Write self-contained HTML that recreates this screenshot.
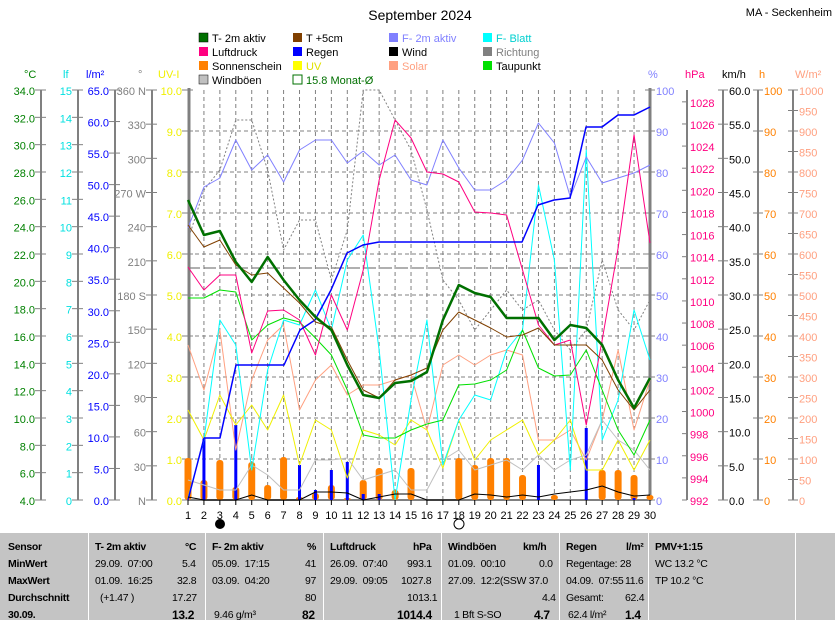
<!DOCTYPE html>
<html><head><meta charset="utf-8"><style>
body{margin:0;background:#fff;width:835px;height:620px;overflow:hidden;font-family:"Liberation Sans",sans-serif}
svg text{font-family:"Liberation Sans",sans-serif;font-size:11px}
.tb{position:absolute;left:0;top:533px;width:835px;height:87px;background:#c4c4c4;font-size:10.5px;letter-spacing:-0.3px}
.tb div{position:absolute;white-space:nowrap}
.b{font-weight:bold}
</style></head><body>
<svg width="835" height="533" style="position:absolute;left:0;top:0">
<text x="420" y="20" text-anchor="middle" style="font-size:14px">September 2024</text>
<text x="832" y="16" text-anchor="end">MA - Seckenheim</text>
<g>
<rect x="199" y="33" width="9" height="9" fill="#007000" stroke="#000" stroke-width="0.5"/><text x="212" y="42">T- 2m aktiv</text>
<rect x="199" y="47" width="9" height="9" fill="#ff0080"/><text x="212" y="56">Luftdruck</text>
<rect x="199" y="61" width="9" height="9" fill="#ff8000"/><text x="212" y="70">Sonnenschein</text>
<rect x="199" y="75" width="9" height="9" fill="#c0c0c0" stroke="#000" stroke-width="0.5"/><text x="212" y="84">Windböen</text>
<rect x="293" y="33" width="9" height="9" fill="#804000"/><text x="306" y="42">T +5cm</text>
<rect x="293" y="47" width="9" height="9" fill="#0000ff"/><text x="306" y="56">Regen</text>
<rect x="293" y="61" width="9" height="9" fill="#ffff00"/><text x="306" y="70" fill="#e0e000">UV</text>
<rect x="293" y="75" width="9" height="9" fill="#fff" stroke="#007000"/><text x="306" y="84" fill="#007000">15.8 Monat-Ø</text>
<rect x="389" y="33" width="9" height="9" fill="#8080ff"/><text x="402" y="42" fill="#8080ff">F- 2m aktiv</text>
<rect x="389" y="47" width="9" height="9" fill="#000"/><text x="402" y="56">Wind</text>
<rect x="389" y="61" width="9" height="9" fill="#ffa080"/><text x="402" y="70" fill="#ffa080">Solar</text>
<rect x="483" y="33" width="9" height="9" fill="#00ffff"/><text x="496" y="42" fill="#00d0d0">F- Blatt</text>
<rect x="483" y="47" width="9" height="9" fill="#808080"/><text x="496" y="56" fill="#808080">Richtung</text>
<rect x="483" y="61" width="9" height="9" fill="#00e000"/><text x="496" y="70">Taupunkt</text>
</g>
<text x="24" y="78" fill="#008000">°C</text><text x="63" y="78" fill="#00e0e0">lf</text><text x="86" y="78" fill="#0000ff">l/m²</text><text x="138" y="78" fill="#808080">°</text><text x="158" y="78" fill="#f0f000">UV-I</text>
<text x="648" y="78" fill="#8080ff">%</text><text x="685" y="78" fill="#ff0080">hPa</text><text x="722" y="78">km/h</text><text x="759" y="78" fill="#ff8000">h</text><text x="795" y="78" fill="#ffa080">W/m²</text>
<g stroke="#808080" stroke-width="2"><line x1="41" y1="90" x2="41" y2="500"/><line x1="78" y1="90" x2="78" y2="500"/><line x1="115" y1="90" x2="115" y2="500"/><line x1="152" y1="90" x2="152" y2="500"/><line x1="687" y1="90" x2="687" y2="500"/><line x1="723" y1="90" x2="723" y2="500"/><line x1="758" y1="90" x2="758" y2="500"/><line x1="793" y1="90" x2="793" y2="500"/></g>
<g id="ticks" stroke="#808080" stroke-width="1"></g>
<g id="labels"></g>
<g id="grid" stroke="#808080" stroke-dasharray="4,3" stroke-width="1"></g>
<line x1="188" y1="268" x2="650" y2="268" stroke="#606060" stroke-dasharray="12,4"/>
<g stroke="#808080" stroke-width="3" fill="none"><line x1="189" y1="88" x2="189" y2="501"/><line x1="650" y1="88" x2="650" y2="501"/></g>
<line x1="188" y1="500" x2="650" y2="500" stroke="#808080" stroke-width="2"/>
<g id="bars"></g>
<g fill="none" stroke-linejoin="round">
<polyline id="richt" stroke="#808080" stroke-dasharray="2,2"/>
<polyline id="solar" stroke="#ffa080"/>
<polyline id="uv" stroke="#f0f000"/>
<polyline id="gust" stroke="#c0c0c0"/>
<polyline id="blatt" stroke="#00ffff"/>
<polyline id="taup" stroke="#00e000"/>
<polyline id="fr" stroke="#8080ff"/>
<polyline id="druck" stroke="#ff0080"/>
<polyline id="regen" stroke="#0000ff" stroke-width="1.5"/>
<polyline id="wind" stroke="#000"/>
<polyline id="t5" stroke="#804000"/>
<polyline id="t2" stroke="#007000" stroke-width="2.5"/>
</g>
<g id="days"></g>
<circle cx="220" cy="524" r="5" fill="#000"/>
<circle cx="459" cy="524" r="5" fill="none" stroke="#000"/>
</svg>
<div class="tb">
<div style="left:88px;top:0;width:1px;height:87px;background:#fff"></div>
<div style="left:205px;top:0;width:1px;height:87px;background:#fff"></div>
<div style="left:323px;top:0;width:1px;height:87px;background:#fff"></div>
<div style="left:441px;top:0;width:1px;height:87px;background:#fff"></div>
<div style="left:559px;top:0;width:1px;height:87px;background:#fff"></div>
<div style="left:648px;top:0;width:1px;height:87px;background:#fff"></div>
<div style="left:795px;top:0;width:1px;height:87px;background:#fff"></div>
<div class="b" style="left:8px;top:8px">Sensor</div><div class="b" style="left:8px;top:25px">MinWert</div><div class="b" style="left:8px;top:42px">MaxWert</div><div class="b" style="left:8px;top:59px">Durchschnitt</div><div class="b" style="left:8px;top:76px">30.09.</div>
<div class="b" style="left:95px;top:8px">T- 2m aktiv</div><div class="b" style="left:185px;top:8px">°C</div>
<div style="left:95px;top:25px">29.09.&nbsp; 07:00</div><div style="left:182px;top:25px">5.4</div>
<div style="left:95px;top:42px">01.09.&nbsp; 16:25</div><div style="left:177px;top:42px">32.8</div>
<div style="left:100px;top:59px">(+1.47 )</div><div style="left:172px;top:59px">17.27</div>
<div class="b" style="left:172px;top:75px;font-size:12px">13.2</div>
<div class="b" style="left:212px;top:8px">F- 2m aktiv</div><div class="b" style="left:307px;top:8px">%</div>
<div style="left:212px;top:25px">05.09.&nbsp; 17:15</div><div style="left:305px;top:25px">41</div>
<div style="left:212px;top:42px">03.09.&nbsp; 04:20</div><div style="left:305px;top:42px">97</div>
<div style="left:305px;top:59px">80</div>
<div style="left:214px;top:76px">9.46 g/m³</div><div class="b" style="left:302px;top:75px;font-size:12px">82</div>
<div class="b" style="left:330px;top:8px">Luftdruck</div><div class="b" style="left:413px;top:8px">hPa</div>
<div style="left:330px;top:25px">26.09.&nbsp; 07:40</div><div style="left:407px;top:25px">993.1</div>
<div style="left:330px;top:42px">29.09.&nbsp; 09:05</div><div style="left:401px;top:42px">1027.8</div>
<div style="left:407px;top:59px">1013.1</div>
<div class="b" style="left:397px;top:75px;font-size:12px">1014.4</div>
<div class="b" style="left:448px;top:8px">Windböen</div><div class="b" style="left:523px;top:8px">km/h</div>
<div style="left:448px;top:25px">01.09.&nbsp; 00:10</div><div style="left:539px;top:25px">0.0</div>
<div style="left:448px;top:42px">27.09.&nbsp; 12:2(SSW 37.0</div>
<div style="left:542px;top:59px">4.4</div>
<div style="left:454px;top:76px">1 Bft S-SO</div><div class="b" style="left:534px;top:75px;font-size:12px">4.7</div>
<div class="b" style="left:566px;top:8px">Regen</div><div class="b" style="left:626px;top:8px">l/m²</div>
<div style="left:566px;top:25px">Regentage: 28</div>
<div style="left:566px;top:42px">04.09.&nbsp; 07:55</div><div style="left:625px;top:42px">11.6</div>
<div style="left:566px;top:59px">Gesamt:</div><div style="left:625px;top:59px">62.4</div>
<div style="left:568px;top:76px">62.4 l/m²</div><div class="b" style="left:625px;top:75px;font-size:12px">1.4</div>
<div class="b" style="left:655px;top:8px">PMV+1:15</div>
<div style="left:655px;top:25px">WC 13.2 °C</div>
<div style="left:655px;top:42px">TP 10.2 °C</div>
</div>
<script>
const NS="http://www.w3.org/2000/svg";
function el(p,t,a,txt){const e=document.createElementNS(NS,t);for(const k in a)e.setAttribute(k,a[k]);if(txt!==undefined)e.textContent=txt;document.getElementById(p).appendChild(e);return e;}
function axis(x,side,labs,col,top,bot){const n=labs.length-1;labs.forEach((l,i)=>{const y=top+(bot-top)*i/n;
 if(side<0){el("ticks","line",{x1:x-6,y1:y,x2:x+5,y2:y});el("labels","text",{x:x-6,y:y+5,"text-anchor":"end",fill:col},l);}
 else{el("ticks","line",{x1:x-5,y1:y,x2:x+5,y2:y});el("labels","text",{x:x+6,y:y+5,fill:col},l);}});}
let a=[];for(let v=34;v>=4;v-=2)a.push(v.toFixed(1));axis(41,-1,a,"#008000",90,500);
a=[];for(let v=15;v>=0;v--)a.push(v);axis(78,-1,a,"#00e0e0",90,500);
a=[];for(let v=65;v>=0;v-=5)a.push(v.toFixed(1));axis(115,-1,a,"#0000ff",90,500);
axis(152,-1,["360 N","330","300","270 W","240","210","180 S","150","120","90","60","30","N"],"#808080",90,500);
a=[];for(let v=10;v>=0;v--)a.push(v.toFixed(1));axis(188,-1,a,"#f0f000",90,500);
a=[];for(let v=100;v>=0;v-=10)a.push(v);axis(650,1,a,"#8080ff",90,500);
a=[];for(let v=60;v>=0;v-=5)a.push(v.toFixed(1));axis(723,1,a,"#000",90,500);
a=[];for(let v=100;v>=0;v-=10)a.push(v);axis(758,1,a,"#ff8000",90,500);
a=[];for(let v=1000;v>=0;v-=50)a.push(v);axis(793,1,a,"#ffa080",90,500);
for(let v=1028;v>=992;v-=2){const y=500-(v-992)*11.06;el("ticks","line",{x1:682,y1:y,x2:687,y2:y});el("labels","text",{x:690,y:y+5,fill:"#ff0080"},v);}
const X=d=>188+(d-1)*15.93;
for(let d=2;d<=29;d++)el("grid","line",{x1:X(d),y1:90,x2:X(d),y2:500});
for(let i=1;i<10;i++)el("grid","line",{x1:188,y1:90+41*i,x2:650,y2:90+41*i});
for(let d=1;d<=30;d++){el("days","text",{x:X(d),y:519,"text-anchor":"middle","font-size":"12"},d);el("days","line",{x1:X(d),y1:500,x2:X(d),y2:505,stroke:"#000"});}
function pl(id,ys){document.getElementById(id).setAttribute("points",ys.map((y,i)=>X(i+1)+","+y).join(" "));}
pl("t2",[200,235,231,262,282,257,280,300,317,330,365,395,398,383,381,372,320,285,293,297,318,318,318,340,325,328,345,380,408,378]);
pl("t5",[225,247,240,265,275,273,288,303,322,327,360,390,398,380,375,368,330,312,320,328,337,335,328,345,345,345,360,390,410,390]);
pl("fr",[228,187,178,140,170,155,182,150,140,140,163,151,165,155,180,185,140,168,190,190,180,160,123,143,197,157,183,178,173,165]);
pl("druck",[267,290,275,275,353,311,310,320,355,295,330,270,180,120,138,172,174,182,212,213,215,270,325,345,340,425,340,248,135,243]);
pl("taup",[298,298,290,292,340,325,318,322,338,355,390,435,438,438,430,424,420,385,384,380,370,330,368,376,375,350,390,430,455,420]);
pl("blatt",[498,440,320,345,470,370,320,325,290,330,260,235,350,500,400,320,465,420,395,400,350,330,185,260,470,150,440,400,310,360]);
pl("uv",[410,440,395,425,405,430,395,465,420,430,478,430,435,445,420,430,468,420,460,440,430,420,455,440,420,470,470,440,470,440]);
pl("solar",[345,390,330,450,380,340,325,410,380,365,395,385,385,380,375,430,365,355,365,355,350,355,440,440,430,460,420,350,430,380]);
pl("gust",[480,485,490,490,465,475,490,490,460,460,458,480,475,470,490,490,460,450,470,465,460,470,455,470,460,455,420,440,450,470]);
pl("richt",[240,190,170,120,120,170,250,220,220,280,230,90,90,120,150,210,280,300,330,310,290,310,300,330,350,330,260,310,330,300]);
pl("wind",[497,500,500,500,495,500,500,500,492,492,493,500,497,494,494,500,500,500,494,495,497,495,497,494,492,490,486,492,496,495]);
document.getElementById("regen").setAttribute("points","188,500 204,438 220,438 236,365 252,365 268,365 284,365 300,330 315,320 331,290 347,253 363,245 379,242 395,242 411,242 522,242 538,205 554,200 570,198 586,127 602,127 618,115 634,115 650,107");
const sun={1:458,2:480,3:460,4:487,5:462,6:485,7:457,8:497,9:493,10:485,11:498,12:480,13:468,14:490,15:468,18:458,19:465,20:458,21:458,22:475,24:495,27:470,28:470,29:475,30:495};
for(const d in sun)el("bars","rect",{x:X(+d)-3.5,y:sun[d],width:7,height:500-sun[d],rx:3,fill:"#ff8000"});
const rn={2:438,4:425,8:465,9:490,10:470,11:462,12:494,13:494,23:465,26:428,29:498};
for(const d in rn)el("bars","rect",{x:X(+d)-1.5,y:rn[d],width:3,height:500-rn[d],fill:"#0000ff"});
</script>
</body></html>
